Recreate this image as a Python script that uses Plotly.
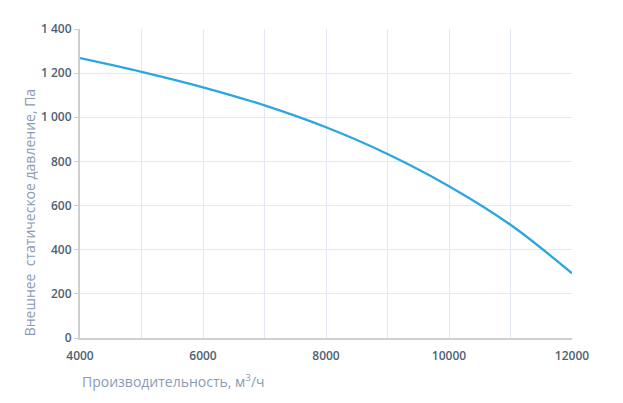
"""
Fan curve: external static pressure vs airflow
"""

import plotly.graph_objects as go

# Airflow, m3/h
airflow = [4000, 5000, 6000, 7000, 8000, 9000, 10000, 11000, 12000]
# External static pressure, Pa
pressure = [1268, 1206, 1136, 1054, 955, 834, 688, 513, 293]

x_ticks = [4000, 6000, 8000, 10000, 12000]
y_ticks = [0, 200, 400, 600, 800, 1000, 1200, 1400]

tick_color = '#4f5f73'
title_color = '#8a9bb3'
grid_color = '#e3e9f3'
axis_color = '#cfcfcf'

fig = go.Figure()

fig.add_trace(go.Scatter(
    x=airflow,
    y=pressure,
    mode='lines',
    line=dict(color='#2ba6e1', width=2.3, shape='spline', smoothing=1),
    showlegend=False
))

# page body adds 8px, margins account for it
fig.update_layout(
    width=623,
    height=403,
    margin=dict(l=72, r=59, t=12, b=73),
    plot_bgcolor='white',
    paper_bgcolor='white',
    font=dict(family='Open Sans, sans-serif', size=12, color=tick_color),
    separators=', ',
    xaxis=dict(
        range=[4000, 12000],
        tickvals=x_ticks,
        tickformat='d',
        showgrid=True,
        gridcolor=grid_color,
        showline=True,
        linecolor=axis_color,
        linewidth=2,
        ticks='',
        ticklabelstandoff=6,
        tickfont=dict(size=12, color=tick_color, weight=600),
        zeroline=False
    ),
    yaxis=dict(
        range=[0, 1400],
        tickvals=y_ticks,
        tickformat=',d',
        showgrid=True,
        gridcolor=grid_color,
        showline=True,
        linecolor=axis_color,
        linewidth=2,
        ticks='outside',
        ticklen=4,
        tickcolor=axis_color,
        tickfont=dict(size=12, color=tick_color, weight=600),
        zeroline=False
    )
)

# axis titles sit at the start of each axis, not centred
fig.add_annotation(
    text='Производительность, м<sup>3</sup>/ч',
    xref='paper', yref='paper', x=0, y=-0.14,
    xanchor='left', yanchor='middle', showarrow=False,
    font=dict(size=14, color=title_color)
)
fig.add_annotation(
    text='Внешнее\u00a0 статическое давление, Па',
    xref='paper', yref='paper', x=-0.102, y=0,
    xanchor='center', yanchor='bottom', textangle=-90, showarrow=False,
    font=dict(size=14, color=title_color)
)

# vertical grid every 1000 (minor lines between labelled ticks)
fig.update_xaxes(minor=dict(tickvals=[5000, 7000, 9000, 11000], showgrid=True, gridcolor=grid_color))

fig.write_html("out.html")
